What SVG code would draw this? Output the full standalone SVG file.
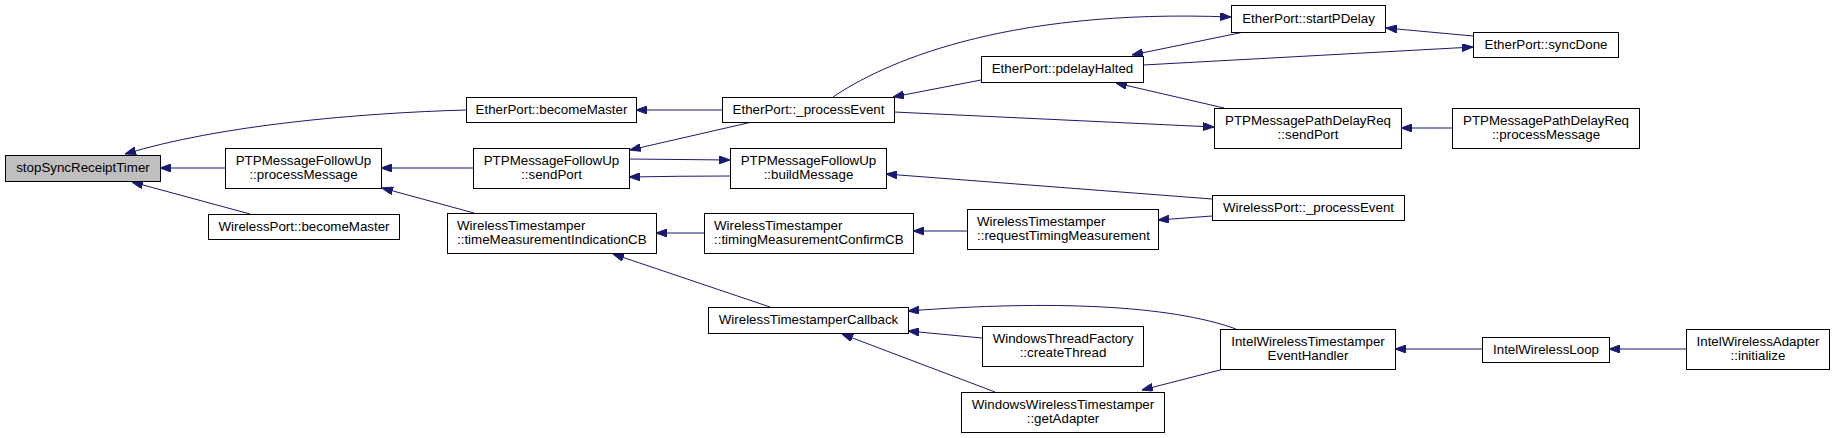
<svg xmlns="http://www.w3.org/2000/svg" width="1835" height="438" viewBox="0 0 1835 438">
<style>
.node rect{fill:#ffffff;stroke:#000000;stroke-width:1}
.node.cur rect{fill:#bfbfbf}
.node text{font-family:"Liberation Sans",Arial,sans-serif;font-size:13.33px;fill:#000000;text-anchor:middle}
.node text.l{text-anchor:start}
.edges path{fill:none;stroke:#191970;stroke-width:1;marker-end:url(#ah)}
</style>
<defs>
<marker id="ah" viewBox="0 0 11 8" refX="11" refY="4" markerWidth="11" markerHeight="8" markerUnits="userSpaceOnUse" orient="auto">
<path d="M0,0 L11,4 L0,8 Z" fill="#191970" stroke="#191970" stroke-width="1"/>
</marker>
</defs>
<rect width="1835" height="438" fill="#ffffff"/>
<g class="edges">
<path d="M466,110 C360,113 220,125 125,154"/>
<path d="M225,168 L160,168"/>
<path d="M250,214 L132,182"/>
<path d="M473,168 L381,168"/>
<path d="M474,213 L382,188"/>
<path d="M722,110 L636,110"/>
<path d="M752,122 L630,150"/>
<path d="M629,159 L730,160"/>
<path d="M730,176 Q680,176 629,177"/>
<path d="M704,233 L656,233"/>
<path d="M770,307 L613,254"/>
<path d="M981,80 L893,97"/>
<path d="M833,97 C880,65 1000,8 1231,17"/>
<path d="M1244,32 L1132,55"/>
<path d="M1473,36 L1386,28"/>
<path d="M1143,65 L1473,47"/>
<path d="M1224,108 L1116,83"/>
<path d="M894,112 L1214,127"/>
<path d="M1452,128 L1401,128"/>
<path d="M1212,199 L886,174"/>
<path d="M1212,216 L1158,220"/>
<path d="M967,231 L913,231"/>
<path d="M1236,329 C1170,305 1050,300 908,311"/>
<path d="M982,338 L908,331"/>
<path d="M995,392 L842,334"/>
<path d="M1224,369 L1142,390"/>
<path d="M1482,349 L1395,349"/>
<path d="M1686,349 L1609,349"/>
</g>
<g id="n1" class="node cur"><rect x="5.5" y="155.5" width="155" height="26"/><text x="83" y="172">stopSyncReceiptTimer</text></g>
<g id="n2" class="node"><rect x="225.5" y="148.5" width="156" height="40"/><text x="303.5" y="165">PTPMessageFollowUp</text><text x="303.5" y="179">::processMessage</text></g>
<g id="n3" class="node"><rect x="208.5" y="214.5" width="191" height="25"/><text x="304" y="231">WirelessPort::becomeMaster</text></g>
<g id="n4" class="node"><rect x="466.5" y="97.5" width="170" height="25"/><text x="551.5" y="114">EtherPort::becomeMaster</text></g>
<g id="n5" class="node"><rect x="473.5" y="148.5" width="156" height="40"/><text x="551.5" y="165">PTPMessageFollowUp</text><text x="551.5" y="179">::sendPort</text></g>
<g id="n6" class="node"><rect x="447.5" y="213.5" width="209" height="40"/><text class="l" x="457" y="230">WirelessTimestamper</text><text class="l" x="457" y="244">::timeMeasurementIndicationCB</text></g>
<g id="n7" class="node"><rect x="722.5" y="97.5" width="172" height="25"/><text x="808.5" y="114">EtherPort::_processEvent</text></g>
<g id="n8" class="node"><rect x="730.5" y="148.5" width="156" height="40"/><text x="808.5" y="165">PTPMessageFollowUp</text><text x="808.5" y="179">::buildMessage</text></g>
<g id="n9" class="node"><rect x="704.5" y="213.5" width="209" height="40"/><text class="l" x="714" y="230">WirelessTimestamper</text><text class="l" x="714" y="244">::timingMeasurementConfirmCB</text></g>
<g id="n10" class="node"><rect x="708.5" y="307.5" width="200" height="26"/><text x="808.5" y="324">WirelessTimestamperCallback</text></g>
<g id="n11" class="node"><rect x="981.5" y="56.5" width="162" height="26"/><text x="1062.5" y="73">EtherPort::pdelayHalted</text></g>
<g id="n12" class="node"><rect x="1231.5" y="5.5" width="154" height="27"/><text x="1308.5" y="23">EtherPort::startPDelay</text></g>
<g id="n13" class="node"><rect x="1214.5" y="108.5" width="187" height="40"/><text x="1308" y="125">PTPMessagePathDelayReq</text><text x="1308" y="139">::sendPort</text></g>
<g id="n14" class="node"><rect x="967.5" y="209.5" width="191" height="40"/><text class="l" x="977" y="226">WirelessTimestamper</text><text class="l" x="977" y="240">::requestTimingMeasurement</text></g>
<g id="n15" class="node"><rect x="982.5" y="326.5" width="161" height="40"/><text x="1063" y="343">WindowsThreadFactory</text><text x="1063" y="357">::createThread</text></g>
<g id="n16" class="node"><rect x="961.5" y="392.5" width="203" height="40"/><text x="1063" y="409">WindowsWirelessTimestamper</text><text x="1063" y="423">::getAdapter</text></g>
<g id="n17" class="node"><rect x="1473.5" y="32.5" width="145" height="25"/><text x="1546" y="49">EtherPort::syncDone</text></g>
<g id="n18" class="node"><rect x="1452.5" y="108.5" width="187" height="40"/><text x="1546" y="125">PTPMessagePathDelayReq</text><text x="1546" y="139">::processMessage</text></g>
<g id="n19" class="node"><rect x="1212.5" y="195.5" width="192" height="25"/><text x="1308.5" y="212">WirelessPort::_processEvent</text></g>
<g id="n20" class="node"><rect x="1220.5" y="329.5" width="175" height="40"/><text x="1308" y="346">IntelWirelessTimestamper</text><text x="1308" y="360">EventHandler</text></g>
<g id="n21" class="node"><rect x="1482.5" y="337.5" width="127" height="25"/><text x="1546" y="354">IntelWirelessLoop</text></g>
<g id="n22" class="node"><rect x="1686.5" y="329.5" width="143" height="40"/><text x="1758" y="346">IntelWirelessAdapter</text><text x="1758" y="360">::initialize</text></g>
</svg>
